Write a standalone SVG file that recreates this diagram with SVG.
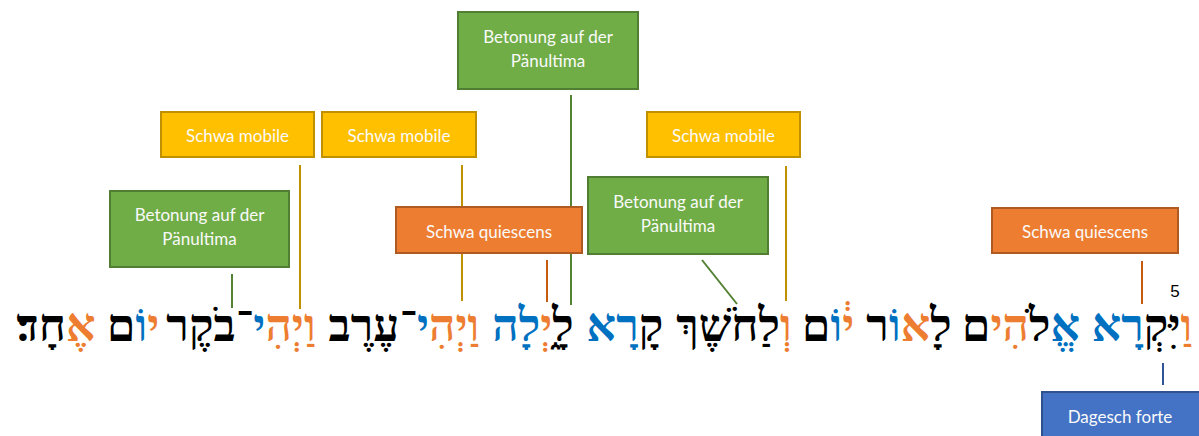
<svg xmlns="http://www.w3.org/2000/svg" width="1199" height="436" viewBox="0 0 1199 436">
<style>
.box{stroke-width:2}
.yel{fill:#FFC000;stroke:#BF9000}
.grn{fill:#70AD47;stroke:#507E32}
.org{fill:#ED7D31;stroke:#AE5A21}
.blu{fill:#4472C4;stroke:#2F528F}
.lbl{font-family:Lato,"Open Sans",sans-serif;font-size:17px;fill:#FAFAFA;text-anchor:middle}
.heb{font-family:"Liberation Serif","DejaVu Serif",serif;font-size:46px;font-weight:bold;fill:#000;text-anchor:middle;direction:rtl}
.o{fill:#ED7D31}
.b{fill:#0070C0}
.k{fill:#000}
.ln{stroke-width:2;fill:none}
.lg{stroke:#BF9000}
.lgr{stroke:#548235}
.lo{stroke:#C55A11}
.lb{stroke:#2F5597}
</style>
<g id="connectors">
<line class="ln lg" x1="300" y1="165" x2="300" y2="309"/>
<line class="ln lg" x1="462" y1="165" x2="462" y2="301"/>
<line class="ln lg" x1="786" y1="166" x2="786" y2="301"/>
<line class="ln lgr" x1="232" y1="274" x2="232" y2="308"/>
<line class="ln lgr" x1="571" y1="95" x2="571" y2="305"/>
<line class="ln lgr" x1="702" y1="260" x2="737" y2="304"/>
<line class="ln lo" x1="547" y1="260" x2="547" y2="302"/>
<line class="ln lo" x1="1142" y1="261" x2="1142" y2="304"/>
<line class="ln lb" x1="1163" y1="363" x2="1163" y2="385"/>
</g>
<g id="betonung-top"><rect class="box grn" x="458" y="12" width="180" height="77"/><text class="lbl" x="548" y="43">Betonung auf der</text><text class="lbl" x="548" y="67">Pänultima</text></g>
<g id="schwa-mobile-1"><rect class="box yel" x="161" y="112" width="153" height="45"/><text class="lbl" x="237.5" y="142">Schwa mobile</text></g>
<g id="schwa-mobile-2"><rect class="box yel" x="322" y="112" width="154" height="45"/><text class="lbl" x="399" y="142">Schwa mobile</text></g>
<g id="schwa-mobile-3"><rect class="box yel" x="647" y="112" width="153" height="45"/><text class="lbl" x="723.5" y="142">Schwa mobile</text></g>
<g id="betonung-left"><rect class="box grn" x="110" y="191" width="179" height="76"/><text class="lbl" x="199.5" y="221">Betonung auf der</text><text class="lbl" x="199.5" y="245">Pänultima</text></g>
<g id="betonung-mid"><rect class="box grn" x="588" y="177" width="180" height="77"/><text class="lbl" x="678" y="208">Betonung auf der</text><text class="lbl" x="678" y="232">Pänultima</text></g>
<g id="schwa-quiescens-1"><rect class="box org" x="396" y="207" width="186" height="46"/><text class="lbl" x="489" y="238">Schwa quiescens</text></g>
<g id="schwa-quiescens-2"><rect class="box org" x="992" y="208" width="186" height="45"/><text class="lbl" x="1085" y="238">Schwa quiescens</text></g>
<g id="dagesch-forte"><rect class="box blu" x="1042" y="392" width="160" height="46"/><text class="lbl" x="1120" y="423">Dagesch forte</text></g>
<g id="verse">
<text x="1175" y="297" font-family="Liberation Sans,Arial,sans-serif" font-size="17" text-anchor="middle">5</text>
<text class="heb" x="1142" y="341"><tspan class="o">וַ</tspan><tspan class="k">יִּקְ</tspan><tspan class="b">רָא</tspan></text>
<text class="heb" x="1021" y="341"><tspan class="b">אֱ</tspan><tspan class="k">לֹ</tspan><tspan class="o">הִי</tspan><tspan class="k">ם</tspan></text>
<text class="heb" x="909" y="341"><tspan class="k">לָ</tspan><tspan class="o">א</tspan><tspan class="b">וֹ</tspan><tspan class="k">ר</tspan></text>
<text class="heb" x="828" y="341"><tspan class="o">י֔</tspan><tspan class="b">וֹ</tspan><tspan class="k">ם</tspan></text>
<text class="heb" x="734" y="341"><tspan class="o">וְ</tspan><tspan class="k">לַחֹשֶׁךְ</tspan></text>
<text class="heb" x="625" y="341"><tspan class="k">קָ</tspan><tspan class="b">רָא</tspan></text>
<text class="heb" x="533" y="341"><tspan class="k">לָ֑</tspan><tspan class="o">יְ</tspan><tspan class="b">לָה</tspan></text>
<text class="heb" x="404" y="341"><tspan class="o">וַיְהִ</tspan><tspan class="b">י</tspan><tspan class="k">־עֶרֶב</tspan></text>
<text class="heb" x="241" y="341"><tspan class="o">וַיְהִ</tspan><tspan class="b">י</tspan><tspan class="k">־בֹקֶר</tspan></text>
<text class="heb" x="133" y="341"><tspan class="o">י</tspan><tspan class="b">וֹ</tspan><tspan class="k">ם</tspan></text>
<text class="heb" x="56" y="341"><tspan class="o">אֶ</tspan><tspan class="k">חָד׃</tspan></text>
</g>
</svg>
